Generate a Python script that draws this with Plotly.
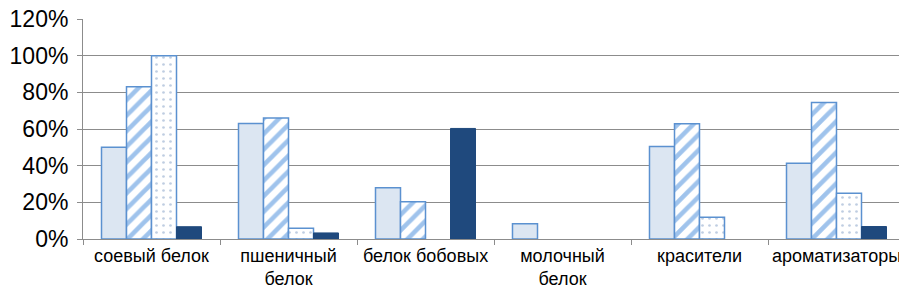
import plotly.graph_objects as go

categories = ["соевый белок", "пшеничный<br>белок", "белок бобовых", "молочный<br>белок", "красители", "ароматизаторы"]
s1 = [50, 63, 28, 8.3, 50.4, 41.3]
s2 = [83, 66, 20.3, None, 62.8, 74.5]
s3 = [100, 5.8, None, None, 11.8, 25]
s4 = [6.7, 3.3, 60.3, None, None, 6.8]
y_ticks = [0, 20, 40, 60, 80, 100, 120]
y_labels = ["0%", "20%", "40%", "60%", "80%", "100%", "120%"]

border = "#5B91D0"
fig = go.Figure()
fig.add_bar(x=categories, y=s1, marker=dict(color="#DCE6F2", line=dict(color=border, width=1.5)))
fig.add_bar(x=categories, y=s2, marker=dict(color="white", line=dict(color=border, width=1.5),
            pattern=dict(shape="/", fgcolor="#3F88DA", bgcolor="white", size=11, solidity=0.42)))
fig.add_bar(x=categories, y=s3, marker=dict(color="white", line=dict(color=border, width=1.5),
            pattern=dict(shape=".", fgcolor="#7F9BC4", bgcolor="white", size=7, solidity=0.12)))
fig.add_bar(x=categories, y=s4, marker=dict(color="#1F497D", line=dict(color="#1F497D", width=1)))

fig.update_layout(
    width=907, height=290, barmode="group", bargap=0.27, bargroupgap=0,
    showlegend=False, plot_bgcolor="white", paper_bgcolor="white",
    margin=dict(l=75, r=10, t=11, b=59),
    font=dict(family="Liberation Sans, Arial", color="black"),
)
fig.update_yaxes(range=[0, 120], tickvals=y_ticks, ticktext=y_labels, tickfont=dict(size=23),
                 showgrid=True, gridcolor="#8C8C8C", gridwidth=1, showline=True, linecolor="#8C8C8C",
                 ticks="outside", ticklen=5, tickcolor="#8C8C8C", zeroline=False, automargin=False,
                 ticklabeloverflow="allow", ticklabelstandoff=4)
fig.update_xaxes(tickfont=dict(size=18), tickangle=0, showline=True, linecolor="#8C8C8C", ticks="outside",
                 tickson="boundaries", ticklen=5, tickcolor="#8C8C8C", automargin=False,
                 ticklabeloverflow="allow")
fig.write_html("out.html")
